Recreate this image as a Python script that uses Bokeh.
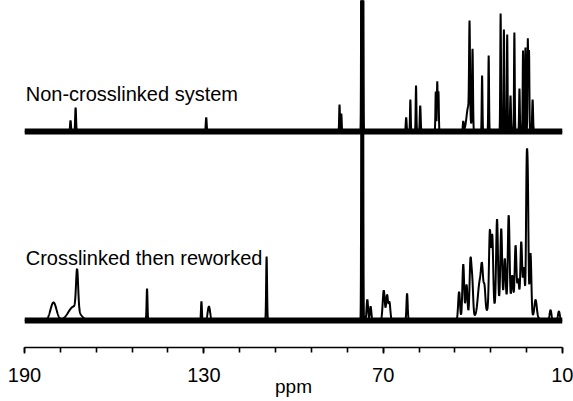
import numpy as np
from bokeh.plotting import figure
from bokeh.models import Range1d, Label, FixedTicker
from bokeh.embed import file_html
from bokeh.resources import INLINE

# ---- data (ppm, intensity, half-width in ppm) ----
top_ppm = [174.6, 172.9, 129.2, 84.6, 84.0, 77.2, 77.0, 76.8,
           62.3, 60.9, 59.0, 57.6, 52.4, 51.9, 51.5, 43.2, 41.5, 41.1, 40.1,
           36.9, 34.7, 30.7, 29.6, 28.5, 27.4, 26.1, 24.4, 23.2, 22.4,
           21.6, 21.2, 20.0]
top_height = [11, 24, 14, 27, 18, 420, 430, 420,
              14, 32, 46, 26, 40, 50, 40, 10, 25, 91, 81,
              56, 76, 118, 102, 97, 36, 99, 43, 81, 84,
              93, 81, 32]
top_width = [0.15, 0.15, 0.15, 0.12, 0.12, 0.12, 0.12, 0.12,
             0.15, 0.12, 0.12, 0.15, 0.12, 0.12, 0.12, 0.15, 0.6, 0.15, 0.15,
             0.12, 0.12, 0.12, 0.12, 0.12, 0.15, 0.12, 0.12, 0.12, 0.12,
             0.12, 0.12, 0.15]

bot_ppm = [180.3, 173.5, 172.4, 149.0, 130.8, 128.3, 109.0,
           77.2, 77.0, 76.8, 75.3, 74.2, 69.8, 68.7, 67.9, 62.0,
           44.6, 43.2, 42.1, 40.8, 40.2, 37.7, 36.9, 36.1, 34.3, 33.5,
           31.9, 30.5, 29.3, 28.0, 26.8, 25.7, 24.8, 23.8, 22.9, 22.0,
           21.6, 20.7, 19.0, 14.0, 11.2, 30.0]
bot_height = [18, 14, 40, 32, 19, 14, 64,
              400, 410, 400, 21, 14, 30, 25, 18, 27,
              28, 55, 34, 55, 34, 32, 36, 24, 78, 72,
              88, 78, 48, 92, 33, 64, 31, 70, 45, 132,
              118, 63, 18, 10, 9, 14]
bot_width = [1.0, 1.8, 0.35, 0.15, 0.15, 0.4, 0.15,
             0.12, 0.12, 0.12, 0.25, 0.25, 0.35, 0.3, 0.3, 0.2,
             0.3, 0.3, 0.3, 0.3, 0.3, 0.6, 0.35, 0.3, 0.3, 0.3,
             0.3, 0.3, 0.3, 0.3, 0.3, 0.3, 0.3, 0.3, 0.3, 0.22,
             0.22, 0.28, 0.4, 0.3, 0.3, 6.0]

solvent_lo, solvent_hi = 76.4, 77.6

# ---- layout constants ----
TOP_BASE = 216
BOT_BASE = 27
NOISE = 3

x = np.arange(10.0, 190.0001, 0.05)


def spectrum(ppm, h, w):
    y = np.zeros_like(x)
    for c, a, s in zip(ppm, h, w):
        y += a * np.exp(-((x - c) ** 2) / (2 * s * s))
    return y


y_top = TOP_BASE + spectrum(top_ppm, top_height, top_width)
y_bot = BOT_BASE + spectrum(bot_ppm, bot_height, bot_width)

p = figure(width=573, height=401, output_backend="svg", toolbar_location=None,
           x_range=Range1d(190, 10), y_range=Range1d(0, 347),
           y_axis_location=None, min_border_left=24, min_border_right=11,
           min_border_top=0, min_border_bottom=54)
p.outline_line_color = None
p.xgrid.visible = False
p.ygrid.visible = False
p.background_fill_color = "white"
p.border_fill_color = "white"

for base in (TOP_BASE, BOT_BASE):
    p.varea(x=[10, 190], y1=[base - NOISE] * 2, y2=[base + NOISE] * 2,
            fill_color="black")

m = (x >= solvent_lo) & (x <= solvent_hi)
p.varea(x=x[m], y1=np.full(m.sum(), float(BOT_BASE)), y2=y_bot[m], fill_color="black")
p.varea(x=x[m], y1=np.full(m.sum(), float(TOP_BASE)), y2=y_top[m], fill_color="black")

p.line(x, y_top, line_color="black", line_width=2)
p.line(x, y_bot, line_color="black", line_width=2)

font = "Liberation Sans"
p.add_layout(Label(x=189.6, y=254, text="Non-crosslinked system",
                   text_font=font, text_font_size="20px",
                   text_baseline="alphabetic", text_color="black"))
p.add_layout(Label(x=189.6, y=90, text="Crosslinked then reworked",
                   text_font=font, text_font_size="20px",
                   text_baseline="alphabetic", text_color="black"))

ax = p.xaxis[0]
ax.ticker = FixedTicker(ticks=[190, 130, 70, 10],
                        minor_ticks=list(range(10, 191, 12)))
ax.axis_line_width = 1.6
ax.axis_line_color = "black"
ax.major_tick_line_width = 1.6
ax.minor_tick_line_width = 1.6
ax.major_tick_line_color = "black"
ax.minor_tick_line_color = "black"
ax.major_tick_in = 0
ax.major_tick_out = 6
ax.minor_tick_in = 0
ax.minor_tick_out = 5
ax.major_label_text_font = font
ax.major_label_text_font_size = "20px"
ax.major_label_text_color = "black"
ax.major_label_standoff = 14
ax.axis_label = "ppm"
ax.axis_label_text_font = font
ax.axis_label_text_font_size = "19px"
ax.axis_label_text_font_style = "normal"
ax.axis_label_text_color = "black"
ax.axis_label_standoff = -9

open("out.html", "w").write(file_html(p, INLINE))
